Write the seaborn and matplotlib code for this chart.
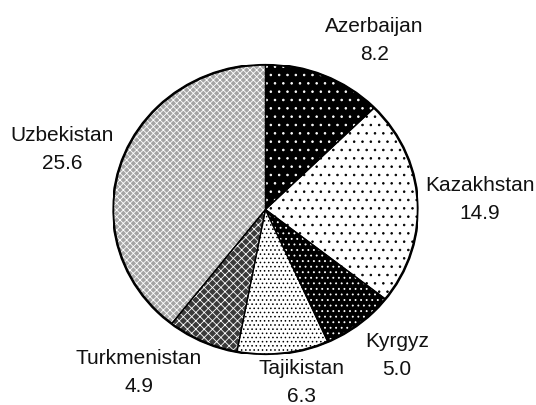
import matplotlib
matplotlib.use("Agg")
import matplotlib.pyplot as plt
import seaborn as sns

countries = ["Azerbaijan", "Kazakhstan", "Kyrgyz", "Tajikistan", "Turkmenistan", "Uzbekistan"]
values = [8.2, 14.9, 5.0, 6.3, 4.9, 25.6]

# face colour, hatch colour, hatch pattern per slice
faces = ["black", "white", "black", "white", "#3a3a3a", "#a4a4a4"]
hatch_colors = ["white", "black", "white", "black", "white", "white"]
hatches = ["..", "..", "...", "....", "xxxx", "xxxxx"]

# label block centres, in pie-radius units
label_pos = [(0.715, 1.166), (1.407, 0.072), (0.862, -1.010),
             (0.239, -1.195), (-0.830, -1.121), (-1.334, 0.417)]

sns.set_style("white")
plt.rcParams["font.family"] = ["Liberation Sans", "DejaVu Sans"]
plt.rcParams["hatch.linewidth"] = 0.6

fig = plt.figure(figsize=(5.36, 4.05), dpi=100)
ax = fig.add_axes([0.2108, 0.1247, 0.569, 0.716])

wedges, _ = ax.pie(values, startangle=90, counterclock=False,
                   colors=faces, wedgeprops=dict(linewidth=0))
for w, hc, h in zip(wedges, hatch_colors, hatches):
    w.set_edgecolor(hc)
    w.set_hatch(h)

# outlines
ax.pie(values, startangle=90, counterclock=False,
       wedgeprops=dict(fill=False, edgecolor="black", linewidth=0.9))
ax.add_patch(plt.Circle((0, 0), 1, fill=False, edgecolor="black", linewidth=1.8))

for c, v, (x, y) in zip(countries, values, label_pos):
    ax.text(x, y, f"{c}\n{v:.1f}", ha="center", va="center",
            fontsize=15, linespacing=1.6, color="#111111")

ax.set_xlim(-1, 1)
ax.set_ylim(-1, 1)
ax.set_aspect("auto")
ax.axis("off")

fig.savefig("out.png", dpi=100)
